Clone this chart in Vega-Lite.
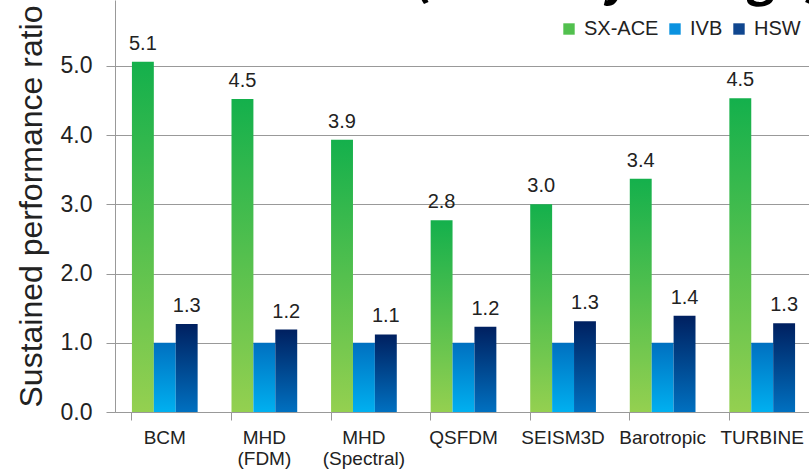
{
  "$schema": "https://vega.github.io/schema/vega-lite/v6.json",
  "autosize": "none",
  "width": 697,
  "height": 412,
  "padding": {"left": 115, "top": 0, "right": 0, "bottom": 60},
  "background": "white",
  "title": {
    "text": "実効性能の比較 (Intel Ivy Bridge)",
    "anchor": "start",
    "frame": "group",
    "font": "Noto Sans CJK JP",
    "fontSize": 50,
    "fontWeight": "bold",
    "color": "#000000",
    "baseline": "alphabetic",
    "offset": 0,
    "dx": -64,
    "dy": 44
  },
  "config": {
    "view": {"stroke": null},
    "font": "Liberation Sans"
  },
  "data": {
    "values": [
      {"app": "BCM", "series": "SX-ACE", "v": 5.06},
      {"app": "BCM", "series": "IVB", "v": 1.0},
      {"app": "BCM", "series": "HSW", "v": 1.27},
      {"app": "MHD (FDM)", "series": "SX-ACE", "v": 4.52},
      {"app": "MHD (FDM)", "series": "IVB", "v": 1.0},
      {"app": "MHD (FDM)", "series": "HSW", "v": 1.19},
      {"app": "MHD (Spectral)", "series": "SX-ACE", "v": 3.93},
      {"app": "MHD (Spectral)", "series": "IVB", "v": 1.0},
      {"app": "MHD (Spectral)", "series": "HSW", "v": 1.12},
      {"app": "QSFDM", "series": "SX-ACE", "v": 2.77},
      {"app": "QSFDM", "series": "IVB", "v": 1.0},
      {"app": "QSFDM", "series": "HSW", "v": 1.23},
      {"app": "SEISM3D", "series": "SX-ACE", "v": 3.0},
      {"app": "SEISM3D", "series": "IVB", "v": 1.0},
      {"app": "SEISM3D", "series": "HSW", "v": 1.31},
      {"app": "Barotropic", "series": "SX-ACE", "v": 3.37},
      {"app": "Barotropic", "series": "IVB", "v": 1.0},
      {"app": "Barotropic", "series": "HSW", "v": 1.39},
      {"app": "TURBINE", "series": "SX-ACE", "v": 4.53},
      {"app": "TURBINE", "series": "IVB", "v": 1.0},
      {"app": "TURBINE", "series": "HSW", "v": 1.28}
    ]
  },
  "encoding": {
    "x": {
      "field": "app",
      "type": "nominal",
      "sort": null,
      "scale": {"paddingInner": 0.34, "paddingOuter": 0.17},
      "axis": {
        "title": null,
        "labelAngle": 0,
        "labelExpr": "split(datum.value, ' ')",
        "labelFontSize": 19,
        "labelColor": "#222222",
        "labelPadding": 8,
        "labelLineHeight": 21,
        "domainColor": "#999999",
        "tickColor": "#999999",
        "tickSize": 8,
        "bandPosition": 0
      }
    },
    "xOffset": {"field": "series", "type": "nominal", "scale": {"domain": ["SX-ACE", "IVB", "HSW"]}},
    "y": {
      "field": "v",
      "type": "quantitative",
      "scale": {"domain": [0, 5.95], "nice": false},
      "axis": {
        "title": "Sustained performance ratio",
        "titleFontSize": 32,
        "titleFontWeight": "normal",
        "titleColor": "#222222",
        "titlePadding": 12,
        "values": [0, 1, 2, 3, 4, 5],
        "format": ".1f",
        "labelFontSize": 23,
        "labelColor": "#222222",
        "labelPadding": 14,
        "tickSize": 9,
        "tickColor": "#999999",
        "domainColor": "#999999",
        "gridColor": "#999999",
        "gridWidth": 1
      }
    }
  },
  "layer": [
    {
      "transform": [{"filter": "datum.series == 'SX-ACE'"}],
      "mark": {"type": "bar", "color": {"gradient": "linear", "x1": 0, "y1": 1, "x2": 0, "y2": 0, "stops": [{"offset": 0, "color": "#94d050"}, {"offset": 1, "color": "#14b04c"}]}}
    },
    {
      "transform": [{"filter": "datum.series == 'IVB'"}],
      "mark": {"type": "bar", "color": {"gradient": "linear", "x1": 0, "y1": 1, "x2": 0, "y2": 0, "stops": [{"offset": 0, "color": "#00b0f0"}, {"offset": 1, "color": "#0070c0"}]}}
    },
    {
      "transform": [{"filter": "datum.series == 'HSW'"}],
      "mark": {"type": "bar", "color": {"gradient": "linear", "x1": 0, "y1": 1, "x2": 0, "y2": 0, "stops": [{"offset": 0, "color": "#0070c0"}, {"offset": 1, "color": "#002060"}]}}
    },
    {
      "transform": [{"filter": "false"}],
      "mark": {"type": "square", "filled": true, "opacity": 1},
      "encoding": {
        "color": {
          "field": "series",
          "type": "nominal",
          "scale": {"domain": ["SX-ACE", "IVB", "HSW"], "range": ["#52c04e", "#0a92e0", "#10468f"]},
          "legend": {
            "title": null,
            "orient": "none",
            "legendX": 444,
            "legendY": 19,
            "direction": "horizontal",
            "symbolType": "square",
            "symbolSize": 130,
            "symbolStrokeWidth": 0,
            "symbolOpacity": 1,
            "labelFontSize": 20,
            "labelColor": "#222222",
            "labelOffset": 5,
            "columnPadding": 6
          }
        }
      }
    },
    {
      "transform": [{"filter": "datum.series != 'IVB'"}],
      "mark": {"type": "text", "baseline": "alphabetic", "dy": -12, "fontSize": 20, "color": "#222222"},
      "encoding": {
        "text": {"field": "v", "type": "quantitative", "format": ".1f"}
      }
    }
  ]
}
